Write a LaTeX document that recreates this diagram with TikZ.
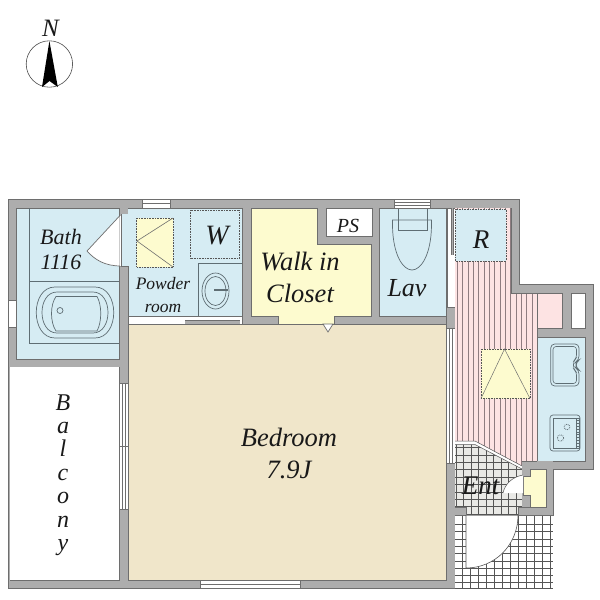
\documentclass[tikz,border=0pt]{standalone}
\usepackage{fontspec}
\setmainfont{Liberation Serif}
\usetikzlibrary{calc}
\definecolor{wallc}{HTML}{ADADAD}
\definecolor{edgec}{HTML}{6E6E6E}
\definecolor{bluec}{HTML}{D6ECF3}
\definecolor{yelc}{HTML}{FDFBCF}
\definecolor{bedc}{HTML}{F0E6CA}
\definecolor{pinkc}{HTML}{FDE3E3}
\definecolor{stripec}{HTML}{8F7C80}
\definecolor{tilec}{HTML}{E9E9E6}
\definecolor{gridc}{HTML}{555555}
\definecolor{fixc}{HTML}{5F6E74}
\tikzset{
  wallfill/.style={fill=wallc,draw=edgec,line width=.6pt},
  room/.style={draw=edgec,line width=.6pt},
  fixture/.style={draw=fixc,line width=.7pt},
  dashbox/.style={draw=gridc,line width=.6pt,densely dotted},
  win/.style={fill=white,draw=edgec,line width=.5pt},
  lbl/.style={inner sep=0pt,font=\itshape,text=black!90,align=center},
}
\begin{document}
\begin{tikzpicture}[x=1pt,y=-1pt,line join=miter]
\useasboundingbox (0,0) rectangle (600,600);
\fill[white] (0,0) rectangle (600,600);
% building wall mass
\path[wallfill] (8,199) -- (519,199) -- (519,284) -- (593,284) -- (593,469) -- (553,469) -- (553,515) -- (455,515) -- (455,588) -- (8,588) -- cycle;
% balcony
\path[fill=white,draw=edgec,line width=.6pt] (9.5,367) -- (119,367) -- (119,580) -- (9.5,580);
\fill[white] (9.5,367.4) rectangle (118.6,579.6);
% bath
\path[room,fill=bluec] (16.5,208) rectangle (119,359);
\draw[fixture,line width=.6pt] (29.5,208) -- (29.5,343) -- (119,343) (29.5,281) -- (119,281);
\draw[fixture] (55,287) .. controls (30,287) and (30,338) .. (55,338) -- (95,338) .. controls (120,338) and (120,287) .. (95,287) -- cycle;
\draw[fixture] (57,292) .. controls (37,292) and (37,333) .. (57,333) -- (93,333) .. controls (113,333) and (113,292) .. (93,292) -- cycle;
\draw[fixture] (56,296.5) -- (97,296.5) .. controls (102,305) and (102,322) .. (97,331) -- (56,331) .. controls (50,322) and (50,305) .. (56,296.5) -- cycle;
\draw[fixture] (60,310.5) circle (3);
% powder room
\path[room,fill=bluec] (121,208) -- (242,208) -- (242,316) -- (128,316) -- (128,266) -- (121,266) -- cycle;
\draw[fill=white,draw=none] (119.5,216) -- (87,251) .. controls (95,260) and (105,266) .. (119.5,266) -- cycle;
\draw[edgec,line width=.7pt] (119.5,216) -- (87,251) .. controls (95,260) and (105,266) .. (121,266);
\fill[wallc] (119.5,208) rectangle (128,214);
\fill[white] (119.5,216) rectangle (121,266);
\path[dashbox,fill=yelc] (136.5,218) rectangle (173,267);
\draw[edgec,line width=.6pt] (173,218) -- (137,241) -- (173,267);
\path[dashbox,fill=bluec] (190.5,210) rectangle (239.5,258);
\draw[fixture,line width=.6pt] (198.5,316) -- (198.5,263) -- (242,263);
\draw[fixture,line width=.7pt] (215.5,291) ellipse (13.5 and 18);
\draw[fixture,line width=.7pt] (215.5,291) ellipse (10.5 and 14.5);
\draw[fixture,line width=1.4pt] (214,290) -- (228,290);
% powder door strip
\path[win] (128,316) rectangle (242,324);
\fill[wallc] (185,320.5) rectangle (240,324);
\draw[edgec,line width=.5pt] (185,320.5) -- (240,320.5);
% walk-in closet
\path[room,fill=yelc] (251,208) -- (317,208) -- (317,244) -- (371,244) -- (371,316) -- (334,316) -- (334,324) -- (278,324) -- (278,316) -- (251,316) -- cycle;
\path[room,fill=white] (326,208) rectangle (372,236);
% lav
\path[room,fill=bluec] (379.5,208) rectangle (446,316);
\draw[fixture,line width=.7pt] (398,208) -- (398,230) -- (427,230) -- (427,208);
\draw[fixture,line width=.7pt] (392.5,220) -- (431.5,220) -- (431.5,226) .. controls (431,255) and (421,270) .. (412,270) .. controls (403,270) and (393,255) .. (392.5,226) -- cycle;
\path[win] (394,199) rectangle (430,208);
\draw[edgec,line width=.4pt] (394,202) -- (430,202) (394,205) -- (430,205);
% bedroom
\path[room,fill=bedc] (128,324) rectangle (446,580);
% closet door triangle
\path[draw=edgec,line width=.7pt,fill=white] (323,324) -- (333,324) -- (328,332) -- cycle;
% east wall windows and partition
\path[win] (447,208) rectangle (455,307);
\fill[wallc] (451,208) rectangle (453,255);
\draw[edgec,line width=.4pt] (451,208) -- (451,255) (453,208) -- (453,255);
\path[wallfill] (446,307) rectangle (455,328);
\path[win] (446,328) rectangle (455,463);
\draw[edgec,line width=.4pt] (449,328) -- (449,463) (452,328) -- (452,463);
% hall pink region with stripes
\begin{scope}
\clip (455,208) -- (511,208) -- (511,293) -- (537,293) -- (537,461) -- (522,461) -- (522,468) -- (475,443) -- (455,443) -- cycle;
\fill[pinkc] (455,208) rectangle (537,470);
\foreach \k in {0,...,15}{\draw[stripec,line width=.55pt] ({457.3+\k*5.33},208) -- ({457.3+\k*5.33},470);}
\end{scope}
\fill[pinkc] (537,293) rectangle (562,328);
\draw[edgec,line width=.6pt] (511,208) -- (511,293) -- (562,293) -- (562,328) -- (537,328) (537,293) -- (537,461);
\path[room,fill=white] (571,293) rectangle (585,328);
\path[dashbox,fill=bluec] (455,209) rectangle (506,261);
\path[dashbox,fill=yelc] (481,349) rectangle (530,398.5);
\draw[edgec,line width=.5pt] (481,398.5) -- (504.5,349) -- (530,398.5);
% kitchen counter
\path[room,fill=bluec] (537,337) rectangle (585,461);
\draw[fixture,rounded corners=4pt] (550.7,344) -- (579,344) -- (579,360) -- (576,362) -- (576,368) -- (579,370) -- (579,386) -- (550.7,386) -- cycle;
\draw[fixture,rounded corners=3pt,line width=.6pt] (553,346.5) -- (576.5,346.5) -- (576.5,358) -- (573.5,361) -- (573.5,369) -- (576.5,372) -- (576.5,383.5) -- (553,383.5) -- cycle;
\draw[fixture,rounded corners=3pt] (550,415) rectangle (580,451);
\draw[fixture,line width=.6pt] (553,418) rectangle (576,448);
\draw[fixture,line width=.5pt] (576,418) rectangle (579,448);
\foreach \k in {0,...,9}{\draw[fixture,line width=.3pt] (576,{420.5+\k*2.8}) -- (579,{420.5+\k*2.8});}
\draw[fixture,densely dotted,line width=.9pt] (567,427) circle (2.8);
\draw[fixture,densely dotted,line width=.9pt] (560.5,438) circle (3.2);
% entry tile
\begin{scope}
\clip (455,443) -- (475,443) -- (522,468) -- (522,515) -- (455,515) -- cycle;
\fill[tilec] (455,443) rectangle (525,515);
\foreach \k in {0,...,9}{\draw[gridc,line width=.45pt] ({456+\k*7.5},440) -- ({456+\k*7.5},515);}
\foreach \k in {0,...,10}{\draw[gridc,line width=.45pt] (455,{447.5+\k*7.4}) -- (525,{447.5+\k*7.4});}
\end{scope}
\fill[white] (455,441) -- (475,441) -- (522,466) -- (522,469) -- (475,444.5) -- (455,444.5) -- cycle;
\draw[gridc,line width=.5pt] (455,441) -- (475,441) -- (522,466) (455,444.5) -- (475,444.5) -- (522,469);
% shoe closet
\fill[wallc] (522,461) rectangle (553,515);
\fill[wallc] (518,507) rectangle (530,515);
\fill[wallc] (455,507) rectangle (466,515);
\draw[edgec,line width=.6pt] (466,515) -- (466,507) -- (455,507);
\draw[edgec,line width=.6pt] (518,515) -- (518,507) -- (530,507);
\draw[edgec,line width=.6pt] (522,461) -- (537,461);
\path[room,fill=yelc] (530,469) -- (546,469) -- (546,507) -- (530,507) -- (530,495) -- (523,495) -- (523,476) -- (530,476) -- cycle;
% shoe closet door
\path[fill=white,draw=none] (523,475) .. controls (512,477) and (505,484) .. (503,493) -- (523,493) -- cycle;
\draw[gridc,line width=.5pt] (523,475) .. controls (512,477) and (505,484) .. (503,493);
% porch
\begin{scope}
\clip (455,515) rectangle (553,588);
\fill[white] (455,515) rectangle (553,588);
\foreach \k in {0,...,12}{\draw[gridc,line width=.5pt] ({454.5+\k*8},515) -- ({454.5+\k*8},588);}
\foreach \k in {0,...,10}{\draw[gridc,line width=.5pt] (455,{524.3+\k*7.3}) -- (553,{524.3+\k*7.3});}
\end{scope}
\draw[edgec,line width=.7pt] (455,515) -- (553,515);
\draw[gridc,line width=.7pt] (455,588) -- (553,588);
\path[fill=white,draw=none] (466,515.5) -- (518,515.5) .. controls (518,545) and (495,568) .. (466,568) -- cycle;
\draw[gridc,line width=.6pt] (466,515) -- (466,568) .. controls (495,568) and (518,545) .. (518,515);
% windows
\path[win] (142,199) rectangle (170,208);
\draw[edgec,line width=.4pt] (142,203.5) -- (170,203.5);
\path[win] (8,300) rectangle (16.5,327);
\path[win] (119,383) rectangle (128,509);
\draw[edgec,line width=.4pt] (122,383) -- (122,509) (125,383) -- (125,509);
\draw[edgec,line width=.7pt] (119,446) -- (128,446);
\path[win] (200,580) rectangle (300,588);
\draw[edgec,line width=.4pt] (200,584) -- (300,584);
% compass
\draw[edgec!70!black,line width=.6pt] (49.4,64) circle (23.2);
\fill[black] (49.4,41) -- (57.8,87) -- (49.5,81) -- (42,87) -- cycle;
% labels
\node[lbl,font=\itshape\fontsize{25}{25}\selectfont] (north) at (50.5,28) {N};
\node[lbl,font=\itshape\fontsize{22}{25}\selectfont] (bath) at (61,249.5) {Bath\\1116};
\node[lbl,font=\itshape\fontsize{28}{28}\selectfont] (w) at (217,236) {W};
\node[lbl,font=\itshape\fontsize{17.5}{22.5}\selectfont] (powder) at (163,295) {Powder\\room};
\node[lbl,font=\itshape\fontsize{26.5}{32}\selectfont] (closet) at (300,277) {Walk in\\Closet};
\node[lbl,font=\itshape\fontsize{20}{20}\selectfont] (ps) at (348,226) {PS};
\node[lbl,font=\itshape\fontsize{26}{26}\selectfont] (lav) at (407,288) {Lav};
\node[lbl,font=\itshape\fontsize{27}{27}\selectfont] (r) at (481,240) {R};
\node[lbl,font=\itshape\fontsize{26.5}{32}\selectfont] (bed) at (289,453) {Bedroom\\7.9J};
\node[lbl,font=\itshape\fontsize{27}{27}\selectfont] (ent) at (480.5,486) {Ent};
\node[lbl,font=\itshape\fontsize{24}{23.4}\selectfont] (balc) at (63,475) {B\\a\\l\\c\\o\\n\\y};
\end{tikzpicture}
\end{document}
